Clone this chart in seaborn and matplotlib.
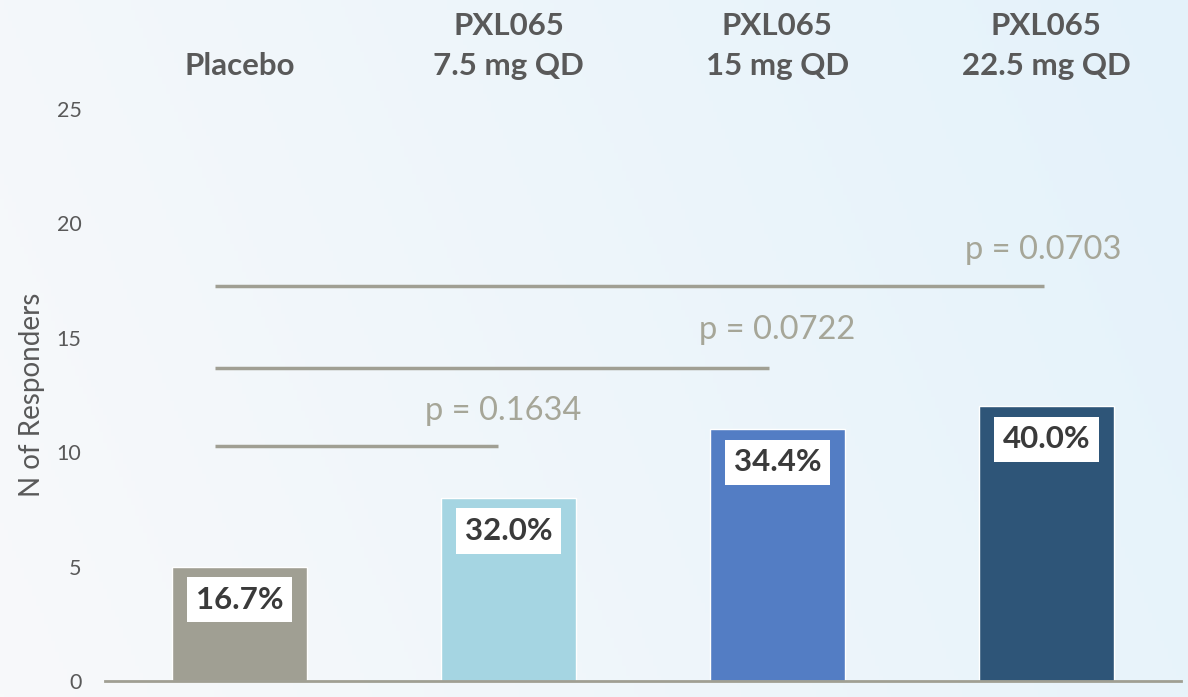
import matplotlib
matplotlib.use("Agg")
import matplotlib.pyplot as plt
import numpy as np
import pandas as pd
import seaborn as sns

# data
groups = ["Placebo", "PXL065\n7.5 mg QD", "PXL065\n15 mg QD", "PXL065\n22.5 mg QD"]
responders = [5, 8, 11, 12]
pct_labels = ["16.7%", "32.0%", "34.4%", "40.0%"]
bar_colors = ["#A09F93", "#A5D5E2", "#537DC4", "#2E5578"]

# p-value brackets: (end group index, line height, label)
p_ends = [0.96, 1.97, 2.99]
p_levels = [10.27, 13.68, 17.26]
p_texts = ["p = 0.1634", "p = 0.0722", "p = 0.0703"]
p_text_x = [0.98, 2.0, 2.99]
p_text_y = [11.8, 15.34, 18.84]

df = pd.DataFrame({"group": groups, "n": responders})

sns.set_theme(style="white")
plt.rcParams["font.family"] = ["Lato", "DejaVu Sans"]

fig = plt.figure(figsize=(11.88, 6.97), dpi=100)

# soft background gradient
bg = fig.add_axes([0, 0, 1, 1], zorder=-10)
gx = np.linspace(0, 1, 300)
gy = np.linspace(0, 1, 200)
X, Y = np.meshgrid(gx, gy)
t = np.clip(0.8 * X + 0.2 * Y, 0, 1)
c0 = np.array([248, 249, 250]) / 255
c1 = np.array([228, 242, 251]) / 255
img = c0[None, None, :] * (1 - t[..., None]) + c1[None, None, :] * t[..., None]
bg.imshow(img, aspect="auto", extent=[0, 1, 0, 1], origin="lower")
bg.axis("off")

ax = fig.add_axes([0.0884, 0.023, 0.9056, 0.8206])
ax.set_facecolor("none")

sns.barplot(data=df, x="group", y="n", hue="group", palette=bar_colors,
            width=0.5, legend=False, ax=ax, saturation=1)

ax.set_xlim(-0.5, 3.5)
ax.set_ylim(0, 25)
ax.set_yticks([0, 5, 10, 15, 20, 25])
ax.tick_params(axis="y", labelsize=15.5, colors="#595959", length=0, pad=17)
ax.set_xticks([])
ax.set_xlabel("")
ax.set_ylabel("N of Responders", fontsize=20, color="#595959", labelpad=8)
for s in ["top", "right", "left"]:
    ax.spines[s].set_visible(False)
ax.spines["bottom"].set_color("#A09F93")
ax.spines["bottom"].set_linewidth(2)

# labels inside bars
for i, (v, lab) in enumerate(zip(responders, pct_labels)):
    ax.text(i, v - 1.44, lab, ha="center", va="center", fontsize=22.5,
            fontweight="bold", color="#3A3A3A",
            bbox=dict(boxstyle="square,pad=0.28", fc="white", ec="none"))

# group names above the plot
for i, g in enumerate(groups):
    ax.text(i, 26.5, g, ha="center", va="baseline", fontsize=22.5,
            fontweight="bold", color="#595959", linespacing=1.5,
            clip_on=False)

# p-value lines
for xe, lv, txt, tx, ty in zip(p_ends, p_levels, p_texts, p_text_x, p_text_y):
    ax.plot([-0.09, xe], [lv, lv], color="#A09F93", lw=2.5, solid_capstyle="butt")
    ax.text(tx, ty, txt, ha="center", va="center", fontsize=23.5, color="#A6A698")

fig.savefig("out.png", dpi=100)
